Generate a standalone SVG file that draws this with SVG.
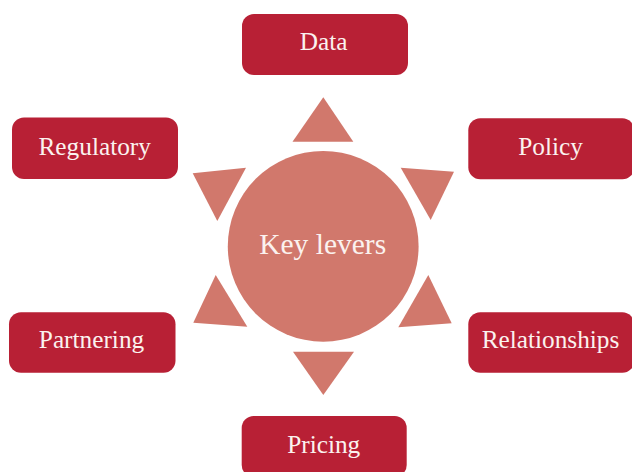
<svg xmlns="http://www.w3.org/2000/svg" width="632" height="472" viewBox="0 0 632 472">
<style>
.box{fill:#B82035}
.lbl{font-family:"Liberation Serif","Times New Roman",serif;font-size:25.3px;fill:#FBF2EF;text-anchor:middle}
.hub{fill:#D1786C}
.hubt{font-family:"Liberation Serif","Times New Roman",serif;font-size:29.5px;fill:#FBF2EF;text-anchor:middle}
</style>
<rect width="632" height="472" fill="#FFFFFF"/>
<g id="connectors">
<polygon class="hub" points="323.3,97.3 353.3,141.7 292.5,141.7"/>
<polygon class="hub" points="323.3,395 354,351.7 293,351.7"/>
<polygon class="hub" points="192.7,173.3 246,167.7 217.3,221"/>
<polygon class="hub" points="400.7,167.7 454,171.7 430.7,220"/>
<polygon class="hub" points="215.7,275 193.3,322.7 247.3,326.7"/>
<polygon class="hub" points="428.3,275 451.7,323.3 398.3,327.3"/>
</g>
<g id="center">
<circle class="hub" cx="323.2" cy="246.3" r="95.4"/>
<text class="hubt" x="322.7" y="253.5">Key levers</text>
</g>
<g id="data">
<rect class="box" x="242" y="14" width="166" height="61" rx="12"/>
<text class="lbl" x="323.7" y="49.5">Data</text>
</g>
<g id="regulatory">
<rect class="box" x="12" y="117.5" width="166" height="61.5" rx="12"/>
<text class="lbl" x="94.7" y="155.2">Regulatory</text>
</g>
<g id="policy">
<rect class="box" x="468.3" y="118.3" width="166" height="61" rx="12"/>
<text class="lbl" x="550.5" y="155.2">Policy</text>
</g>
<g id="partnering">
<rect class="box" x="9" y="312.3" width="166.5" height="60.5" rx="12"/>
<text class="lbl" x="91.5" y="347.5">Partnering</text>
</g>
<g id="relationships">
<rect class="box" x="468.3" y="312.3" width="166" height="60.5" rx="12"/>
<text class="lbl" x="550.5" y="347.5">Relationships</text>
</g>
<g id="pricing">
<rect class="box" x="241.7" y="416" width="165" height="61" rx="12"/>
<text class="lbl" x="323.7" y="452.5">Pricing</text>
</g>
</svg>
